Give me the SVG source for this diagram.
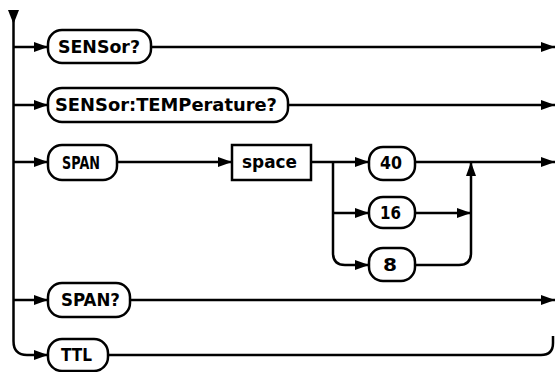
<svg xmlns="http://www.w3.org/2000/svg" width="555" height="372" viewBox="0 0 555 372">
<defs>
<marker id="ah" viewBox="0 0 14 10" refX="14" refY="5" markerWidth="14" markerHeight="10" markerUnits="userSpaceOnUse" orient="auto">
<path d="M0 0 L14 5 L0 10 Z" fill="#000"/>
</marker>
</defs>
<style>
.n{fill:#fff;stroke:#000;stroke-width:2.5}
.t{font-family:"DejaVu Sans","Liberation Sans",sans-serif;font-weight:bold;font-size:17px;fill:#000}
.c{fill:none;stroke:#000;stroke-width:2.5}
.a{marker-end:url(#ah)}
</style>
<rect width="555" height="372" fill="#fff"/>
<g id="connectors">
<polygon points="8,10 19,10 13.5,24" fill="#000"/>
<path class="c" d="M13.5 12 V341 Q13.5 355 27 355 H48" marker-end="url(#ah)"/>
<path class="c a" d="M13.5 47 H48"/>
<path class="c a" d="M151 47 H555"/>
<path class="c a" d="M13.5 105 H48"/>
<path class="c a" d="M288 105 H555"/>
<path class="c a" d="M13.5 162 H48"/>
<path class="c a" d="M117 162 H232"/>
<path class="c a" d="M311 162 H369"/>
<path class="c a" d="M333 162 V253 Q333 265 345 265 H369"/>
<path class="c a" d="M333 213 H369"/>
<path class="c a" d="M415 213 H471"/>
<path class="c a" d="M415 265 H459 Q471 265 471 253 V162"/>
<path class="c a" d="M415 162 H555"/>
<path class="c a" d="M13.5 300 H48"/>
<path class="c a" d="M130 300 H555"/>
<path class="c" d="M108 355 H541 Q553 355 553 343 V336"/>
</g>
<g id="sensor_q"><rect class="n" x="48" y="30" width="103" height="33" rx="14"/><text class="t" x="58" y="53" textLength="82" lengthAdjust="spacingAndGlyphs">SENSor?</text></g>
<g id="sensor_temp_q"><rect class="n" x="48" y="88" width="240" height="34" rx="14"/><text class="t" x="55" y="111" textLength="222" lengthAdjust="spacingAndGlyphs">SENSor:TEMPerature?</text></g>
<g id="span"><rect class="n" x="48" y="145" width="69" height="35" rx="14"/><text class="t" x="62" y="169" textLength="38" lengthAdjust="spacingAndGlyphs">SPAN</text></g>
<g id="space"><rect class="n" x="232" y="145" width="79" height="35"/><text class="t" x="242" y="168" textLength="55" lengthAdjust="spacingAndGlyphs">space</text></g>
<g id="v40"><rect class="n" x="369" y="147" width="46" height="33" rx="14"/><text class="t" x="380" y="169" textLength="22" lengthAdjust="spacingAndGlyphs">40</text></g>
<g id="v16"><rect class="n" x="369" y="197" width="46" height="31" rx="14"/><text class="t" x="380" y="219" textLength="21" lengthAdjust="spacingAndGlyphs">16</text></g>
<g id="v8"><rect class="n" x="369" y="248" width="46" height="33" rx="14"/><text class="t" x="383" y="271" textLength="14" lengthAdjust="spacingAndGlyphs">8</text></g>
<g id="span_q"><rect class="n" x="48" y="283" width="82" height="34" rx="14"/><text class="t" x="61" y="306" textLength="59" lengthAdjust="spacingAndGlyphs">SPAN?</text></g>
<g id="ttl"><rect class="n" x="48" y="339" width="60" height="32" rx="14"/><text class="t" x="61" y="361" textLength="31" lengthAdjust="spacingAndGlyphs">TTL</text></g>
</svg>
